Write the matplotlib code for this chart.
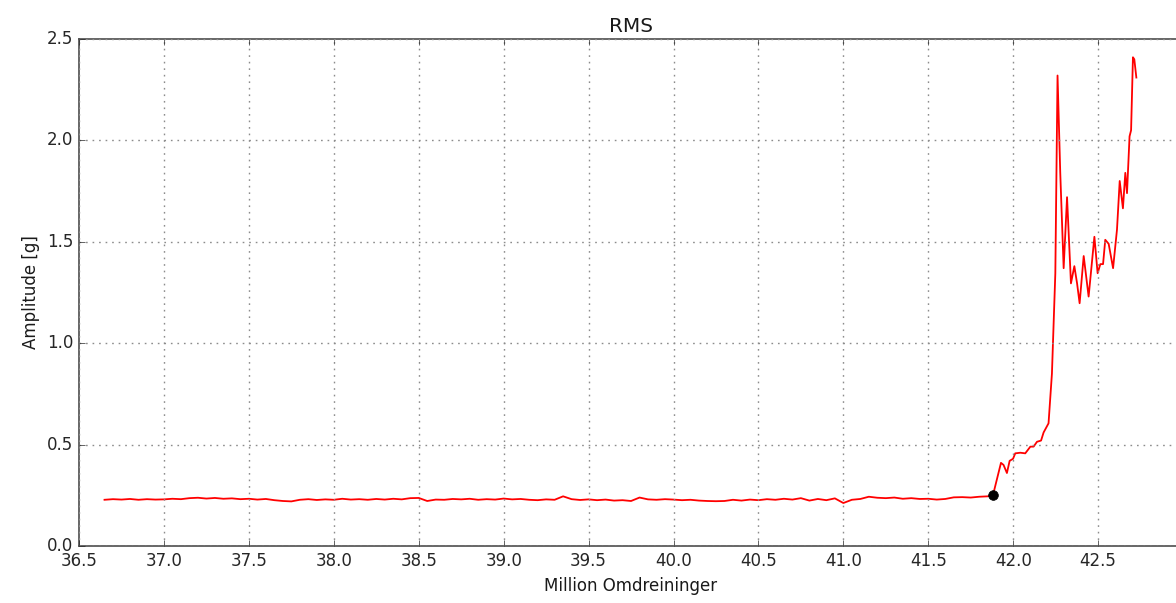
import numpy as np
import matplotlib
matplotlib.use("Agg")
import matplotlib.pyplot as plt

plt.style.use('classic')

# baseline part: evenly sampled every 0.05 million revolutions
base_x = np.arange(105) * 0.05 + 36.65
base_y = [0.228, 0.231, 0.229, 0.232, 0.228, 0.231, 0.229, 0.230, 0.233, 0.231,
          0.236, 0.238, 0.234, 0.237, 0.233, 0.235, 0.231, 0.233, 0.229, 0.232,
          0.226, 0.222, 0.220, 0.228, 0.231, 0.227, 0.230, 0.228, 0.233, 0.229,
          0.231, 0.228, 0.232, 0.229, 0.233, 0.230, 0.236, 0.237, 0.222, 0.229,
          0.228, 0.232, 0.230, 0.233, 0.228, 0.231, 0.229, 0.234, 0.230, 0.232,
          0.228, 0.226, 0.230, 0.228, 0.245, 0.231, 0.227, 0.230, 0.226, 0.229,
          0.224, 0.226, 0.222, 0.239, 0.230, 0.228, 0.231, 0.229, 0.226, 0.228,
          0.224, 0.222, 0.221, 0.222, 0.228, 0.224, 0.229, 0.226, 0.231, 0.228,
          0.233, 0.229, 0.236, 0.224, 0.232, 0.226, 0.235, 0.212, 0.228, 0.232,
          0.243, 0.238, 0.236, 0.239, 0.233, 0.236, 0.232, 0.233, 0.229, 0.232,
          0.240, 0.241, 0.239, 0.243, 0.245]

# failure part
tail_x = [41.881, 41.928, 41.943, 41.963, 41.979, 41.999, 42.012, 42.042, 42.071,
          42.101, 42.120, 42.140, 42.164, 42.179, 42.208, 42.228, 42.248, 42.261,
          42.277, 42.297, 42.317, 42.340, 42.360, 42.376, 42.391, 42.415, 42.444,
          42.478, 42.497, 42.513, 42.529, 42.542, 42.562, 42.588, 42.611, 42.627,
          42.646, 42.660, 42.670, 42.685, 42.694, 42.705, 42.713, 42.725]
tail_y = [0.251, 0.41, 0.40, 0.36, 0.42, 0.43, 0.457, 0.46, 0.457,
          0.49, 0.49, 0.514, 0.52, 0.56, 0.605, 0.85, 1.345, 2.32,
          1.84, 1.37, 1.72, 1.295, 1.38, 1.295, 1.197, 1.43, 1.23,
          1.525, 1.345, 1.39, 1.39, 1.51, 1.49, 1.37, 1.56, 1.80,
          1.665, 1.84, 1.74, 2.02, 2.05, 2.41, 2.40, 2.31]

# detected onset point
onset_x = 41.881
onset_y = 0.251

x_ticks = [36.5, 37.0, 37.5, 38.0, 38.5, 39.0, 39.5, 40.0, 40.5, 41.0, 41.5, 42.0, 42.5, 43.0]
x_labels = ['36.5', '37.0', '37.5', '38.0', '38.5', '39.0', '39.5', '40.0', '40.5',
            '41.0', '41.5', '42.0', '42.5', '']

x = np.concatenate([base_x, tail_x])
y = np.concatenate([base_y, tail_y])

fig = plt.figure(figsize=(11.76, 6.03), dpi=100, facecolor='white')
ax = fig.add_axes([0.0672, 0.0945, 0.9388, 0.8408])
ax.plot(x, y, color='red', lw=1.3)
ax.plot(onset_x, onset_y, 'ko', markersize=7)
ax.set_xlim(36.5, 43.0)
ax.set_ylim(0, 2.5)
ax.set_xticks(x_ticks)
ax.set_xticklabels(x_labels)
ax.set_yticks(np.arange(0, 2.51, 0.5))
ax.grid(True, color='0.55', linestyle=(0, (1.2, 3.5)), lw=1.0)
for s in ax.spines.values():
    s.set_color('0.3')
    s.set_linewidth(1.2)
ax.tick_params(colors='0.15', labelcolor='0.15')
ax.set_title('RMS', color='0.1')
ax.set_xlabel('Million Omdreininger', color='0.1')
ax.set_ylabel('Amplitude [g]', color='0.1')

fig.savefig('out.png', dpi=100, facecolor='white')
